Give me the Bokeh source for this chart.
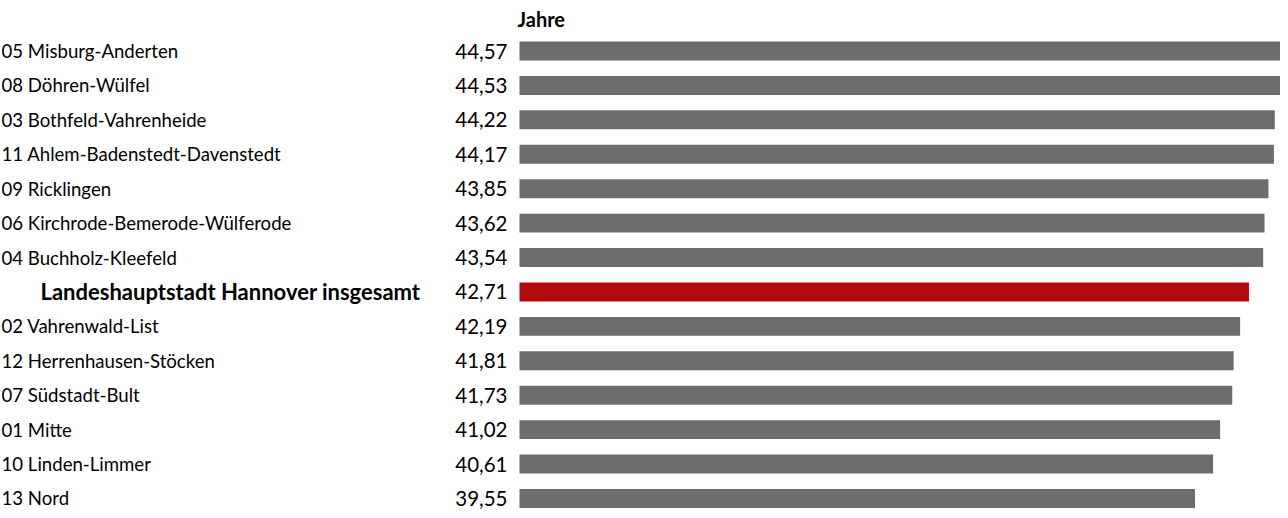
from bokeh.plotting import figure
from bokeh.models import ColumnDataSource, Range1d
from bokeh.core.properties import value
from bokeh.embed import file_html
from bokeh.resources import INLINE

districts = [
    "05 Misburg-Anderten",
    "08 Döhren-Wülfel",
    "03 Bothfeld-Vahrenheide",
    "11 Ahlem-Badenstedt-Davenstedt",
    "09 Ricklingen",
    "06 Kirchrode-Bemerode-Wülferode",
    "04 Buchholz-Kleefeld",
    "Landeshauptstadt Hannover insgesamt",
    "02 Vahrenwald-List",
    "12 Herrenhausen-Stöcken",
    "07 Südstadt-Bult",
    "01 Mitte",
    "10 Linden-Limmer",
    "13 Nord",
]
ages = [44.57, 44.53, 44.22, 44.17, 43.85, 43.62, 43.54, 42.71,
        42.19, 41.81, 41.73, 41.02, 40.61, 39.55]
total_label = "Landeshauptstadt Hannover insgesamt"
unit_label = "Jahre"

GRAY = "#6d6d6d"
RED = "#b30b0b"
FONT = "Lato"

W, H = 1280, 510
px_per_unit = 17.08
bar0 = 519.0
x_start = -bar0 / px_per_unit
x_end = x_start + W / px_per_unit
row_px = 34.42
first_center = 50.5
y_top = -first_center / row_px
y_bottom = y_top + H / row_px

is_total = [d == total_label for d in districts]
normal = [not t for t in is_total]
src = ColumnDataSource(dict(
    y=list(range(len(districts))),
    v=ages,
    label=districts,
    vtxt=[f"{a:.2f}".replace(".", ",") for a in ages],
    color=[RED if t else GRAY for t in is_total],
))
lab_norm = ColumnDataSource(dict(
    y=[i for i, n in enumerate(normal) if n],
    label=[d for d, n in zip(districts, normal) if n],
))
lab_total = ColumnDataSource(dict(
    y=[i for i, t in enumerate(is_total) if t],
    label=[d for d, t in zip(districts, is_total) if t],
))

p = figure(width=W, height=H, output_backend="svg", toolbar_location=None,
           x_range=Range1d(x_start, x_end), y_range=Range1d(y_bottom, y_top),
           min_border=0, outline_line_color=None)
p.axis.visible = False
p.grid.visible = False
p.background_fill_color = "white"
p.border_fill_color = "white"

p.hbar(y="y", left=0, right="v", height=0.55, fill_color="color",
       line_color=None, source=src)

p.text(x=x_start, y="y", text="label", source=lab_norm, text_font=value(FONT),
       text_font_size="18.6px", text_color="black", x_offset=1,
       text_baseline="middle", text_align="left")
p.text(x=x_start, y="y", text="label", source=lab_total, text_font=value(FONT),
       text_font_size="22px", text_font_style="bold", text_color="black",
       x_offset=40, text_baseline="middle", text_align="left")
p.text(x=0, y="y", text="vtxt", source=src, text_font=value(FONT),
       text_font_size="20.5px", text_color="black", x_offset=-12,
       text_baseline="middle", text_align="right")
p.text(x=[0], y=[y_top + 18 / row_px], text=[unit_label], text_font=value(FONT),
       text_font_size="20px", text_font_style="bold", text_color="black",
       x_offset=-2, text_baseline="middle", text_align="left")

open("out.html", "w").write(file_html(p, INLINE))
